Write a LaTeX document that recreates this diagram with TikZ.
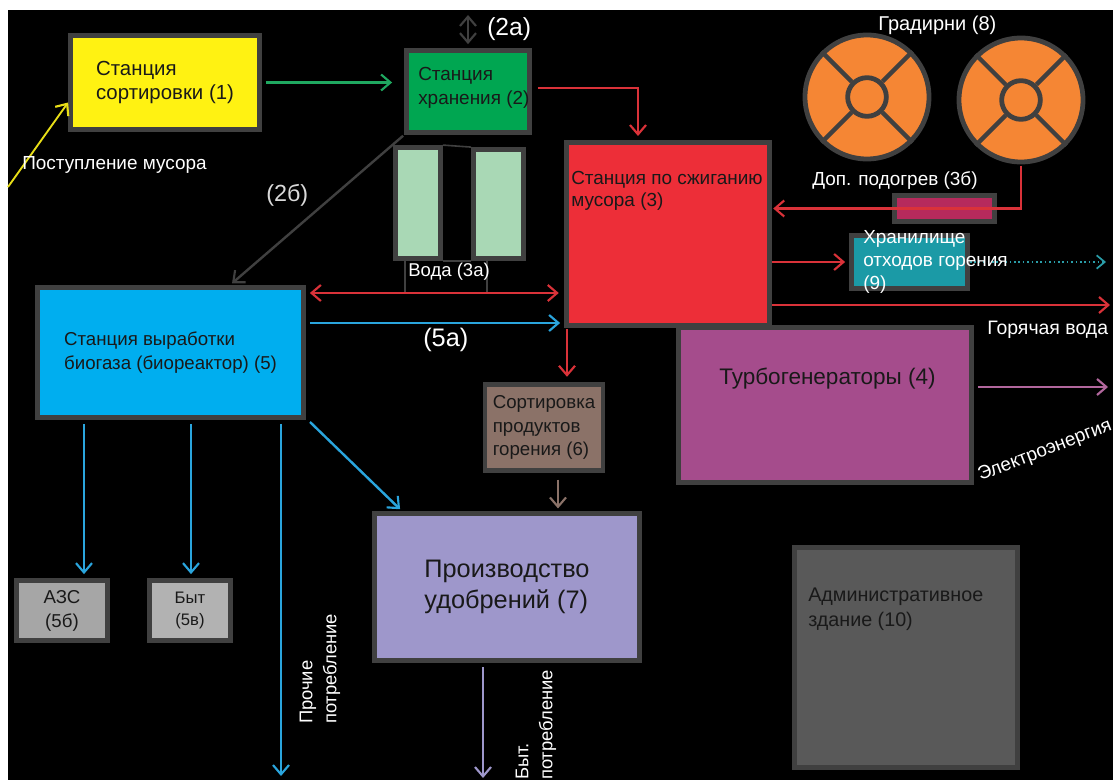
\documentclass[tikz,border=0pt]{standalone}
\usepackage{fontspec}
\setmainfont{Liberation Sans}
\usetikzlibrary{arrows.meta}
\definecolor{boxgrey}{HTML}{404040}
\definecolor{sortyellow}{HTML}{FFF212}
\definecolor{storegreen}{HTML}{00A651}
\definecolor{burnred}{HTML}{ED2E38}
\definecolor{biocyan}{HTML}{00AEEF}
\definecolor{turbopurple}{HTML}{A54C8C}
\definecolor{ashbrown}{HTML}{8B7268}
\definecolor{fertlav}{HTML}{9E97CB}
\definecolor{towerorange}{HTML}{F58634}
\definecolor{wastetealc}{HTML}{1B9AA6}
\definecolor{heatpink}{HTML}{B62A5C}
\definecolor{tankgreen}{HTML}{A9D8B5}
\definecolor{arrowred}{HTML}{DA3239}
\definecolor{arrowblue}{HTML}{2AA5DD}
\definecolor{arrowgreen}{HTML}{1FA860}
\definecolor{arrowteal}{HTML}{2A9DA8}
\tikzset{
	barb/.tip={Straight Barb[length=7pt, width=12pt, line width=1.6pt]},
	plantbox/.style={draw=boxgrey, line width=3.6pt, align=left, text=black!90, inner sep=0pt},
	boxsize/.style 2 args={minimum width=#1*0.75pt, minimum height=#2*0.75pt},
	flow/.style={line width=1.8pt, -barb},
	whitelabel/.style={text=white, align=left, inner sep=0pt, font=\fontsize{14.2}{17}\selectfont},
	boxlabel/.style={text=black!90, align=left, inner sep=0pt, anchor=west, font=\fontsize{14.2}{18}\selectfont},
}

\begin{document}
\begin{tikzpicture}[x=0.75pt, y=-0.75pt]
	\useasboundingbox (0,0) rectangle (1113,780);
	\fill[color=white]
		(0,0) rectangle (1113,780);
	\fill[color=black]
		(8,10) rectangle (1113,780);

	% stations
	\node[plantbox, fill=sortyellow, boxsize={189}{94}, font=\fontsize{15.3}{18}\selectfont] (sorting) at (165,82.5)
		{Станция\\сортировки (1)};
	\node[plantbox, fill=storegreen, boxsize={123}{82}] (storage) at (468,91.5)
		{};
	\node[plantbox, fill=tankgreen, boxsize={45}{111}] (tankA) at (418,203)
		{};
	\node[plantbox, fill=tankgreen, boxsize={50}{109}] (tankB) at (498.5,204)
		{};
	\node[plantbox, fill=burnred, boxsize={203}{183}] (burn) at (668,234)
		{};
	\node[plantbox, fill=biocyan, boxsize={266}{130}, font=\fontsize{14}{18}\selectfont] (biogas) at (170.5,352.5)
		{Станция выработки\\биогаза (биореактор) (5)};
	\node[plantbox, fill=turbopurple, boxsize={293}{155}] (turbo) at (825,405)
		{};
	\node[plantbox, fill=ashbrown, boxsize={118}{86}, font=\fontsize{14}{17.5}\selectfont] (ashsort) at (544,427.5)
		{Сортировка\\продуктов\\горения (6)};
	\node[plantbox, fill=fertlav, boxsize={265}{147}, font=\fontsize{19}{23}\selectfont] (fert) at (507,587)
		{Производство\\удобрений (7)};
	\node[plantbox, fill=black!35, boxsize={91}{60}, align=center, font=\fontsize{14}{18}\selectfont] (fuel) at (62,610.5)
		{АЗС\\(5б)};
	\node[plantbox, fill=black!30, boxsize={81}{60}, align=center, font=\fontsize{12.5}{17}\selectfont] (home) at (190,610.5)
		{Быт\\(5в)};
	\node[plantbox, fill=black!65, boxsize={223}{220}] (admin) at (906,657.5)
		{};
	\node[plantbox, fill=wastetealc, boxsize={116}{53}] (ashstore) at (909.5,262)
		{};
	\node[plantbox, fill=heatpink, boxsize={100}{26}] (reheat) at (944.5,208.5)
		{};

	\node[boxlabel] (storagetext) at (418,88)
		{Станция\\хранения (2)};
	\node[boxlabel, font=\fontsize{14.2}{16}\selectfont] (burntext) at (571,191)
		{Станция по сжиганию\\мусора (3)};
	\node[boxlabel, font=\fontsize{16.9}{20}\selectfont] (turbotext) at (719,379)
		{Турбогенераторы (4)};
	\node[boxlabel, font=\fontsize{14.8}{18.5}\selectfont] (admintext) at (808,609)
		{Административное\\здание (10)};

	% cooling towers
	\foreach \name/\cx/\cy in {towerA/867/97, towerB/1021/100} {
		\node[circle, draw=boxgrey, line width=3.6pt, fill=towerorange, inner sep=0pt, minimum size=93pt] (\name) at (\cx,\cy)
			{};
		\node[circle, draw=boxgrey, line width=3.6pt, inner sep=0pt, minimum size=29pt] (\name hub) at (\cx,\cy)
			{};
		\foreach \ang in {45,135,225,315}
			\draw[color=boxgrey, line width=3.2pt]
				(\name.\ang) -- (\name hub.\ang);
	}

	% free ends
	\coordinate (trashin) at (8,187);
	\coordinate (lift) at (468,15);
	\coordinate (burnin) at (638,140);
	\coordinate (waterL) at (405,293);
	\coordinate (waterR) at (487,293);
	\coordinate (bioline) at (430,323);
	\coordinate (hotend) at (1110,305);
	\coordinate (wasteend) at (1106,262);
	\coordinate (powerend) at (1108,387);
	\coordinate (otherend) at (281,776);
	\coordinate (fertend) at (483,778);
	\coordinate (biofert) at (310,422);

	% thin links at the tanks
	\draw[color=boxgrey, line width=1.2pt]
		(tankA.north east) -- (tankB.north west);
	\draw[color=boxgrey, line width=1.2pt]
		(tankA.south east) -- (tankB.south west);
	\draw[color=boxgrey, line width=1.2pt]
		(waterL |- tankA.south) -- (waterL);
	\draw[color=boxgrey, line width=1.2pt]
		(waterR |- tankB.south) -- (waterR);

	% flows
	\draw[flow, color=yellow!90!black, line width=1.4pt]
		(trashin) -- ([yshift=-15pt]sorting.west);
	\draw[flow, color=arrowgreen, shorten <=3pt, shorten >=9pt]
		(sorting.east) -- (sorting.east -| storage.west);
	\draw[flow, color=boxgrey, barb-barb, shorten >=3pt]
		(lift) -- (lift |- storage.north);
	\draw[flow, color=boxgrey, shorten <=1pt, shorten >=2pt]
		(storage.south west) -- (biogas.north -| 230,0);
	\draw[flow, color=arrowred, shorten <=4.5pt, shorten >=3pt]
		([yshift=2.6pt]storage.east) -| (burnin);
	\draw[flow, color=arrowred, barb-barb, shorten <=3pt, shorten >=4pt]
		(waterL -| biogas.east) -- (waterL -| burn.west);
	\draw[flow, color=arrowblue, shorten <=3pt, shorten >=3pt]
		(bioline -| biogas.east) -- (bioline -| burn.west);
	\draw[flow, color=arrowred, shorten <=1pt, shorten >=1pt]
		(towerB.south) |- (reheat.center) -- (reheat.center -| burn.east);
	\draw[flow, color=arrowred, shorten >=3pt]
		(ashstore.west -| burn.east) -- (ashstore.west);
	\draw[flow, color=arrowred]
		(hotend -| burn.east) -- (hotend);
	\draw[color=arrowteal, dotted, line width=1.3pt, -{Straight Barb[length=6pt, width=10pt, line width=1.3pt]}]
		(wasteend -| ashstore.east) -- (wasteend);
	\draw[flow, color=turbopurple!85!white, shorten <=3pt]
		(powerend -| turbo.east) -- (powerend);
	\draw[flow, color=arrowred, shorten <=1pt, shorten >=4pt]
		(567,328) -- (ashsort.north -| 567,0);
	\draw[flow, color=ashbrown, shorten <=5pt, shorten >=2pt]
		(ashsort.south -| 558,0) -- (fert.north -| 558,0);
	\draw[flow, color=arrowblue, shorten <=3pt, shorten >=3pt]
		(84,420) -- (fuel.north -| 84,0);
	\draw[flow, color=arrowblue, shorten <=3pt, shorten >=3pt]
		(191,420) -- (home.north -| 191,0);
	\draw[flow, color=arrowblue, shorten <=3pt]
		(otherend |- biogas.south) -- (otherend);
	\draw[flow, color=arrowblue, shorten >=2pt]
		(biofert) -- (fert.north -| 402,0);
	\draw[flow, color=fertlav, shorten <=3pt]
		(fertend |- fert.south) -- (fertend);

	% labels
	\node[whitelabel, anchor=west] (tag2a) at (487,29)
		{\fontsize{18.5}{20}\selectfont (2а)};
	\node[whitelabel, anchor=west, text=white!85!black] (tag2b) at (266,195)
		{\fontsize{17.5}{20}\selectfont (2б)};
	\node[whitelabel, anchor=west] (tag5a) at (423,340)
		{\fontsize{19}{20}\selectfont (5а)};
	\node[whitelabel, anchor=west] (trashtext) at (22,165)
		{Поступление мусора};
	\node[whitelabel, anchor=west, font=\fontsize{13.9}{17}\selectfont] (watertext) at (408,272)
		{Вода (3а)};
	\node[whitelabel, anchor=west, font=\fontsize{15}{17}\selectfont] (towertext) at (878,25)
		{Градирни (8)};
	\node[whitelabel, anchor=west] (reheattext) at (812,181)
		{Доп. подогрев (3б)};
	\node[whitelabel, anchor=west] (ashtext) at (863,262)
		{Хранилище\\отходов горения\\(9)};
	\node[whitelabel, anchor=west, font=\fontsize{14.6}{17}\selectfont] (hottext) at (987,330)
		{Горячая вода};
	\node[whitelabel, rotate=21] (powertext) at (1045,451)
		{Электроэнергия};
	\node[whitelabel, rotate=90, font=\fontsize{13.8}{18}\selectfont] (othertext) at (320,669)
		{Прочие\\потребление};
	\node[whitelabel, rotate=90, font=\fontsize{13.8}{18}\selectfont] (fertuse) at (536,725)
		{Быт.\\потребление};
\end{tikzpicture}
\end{document}
